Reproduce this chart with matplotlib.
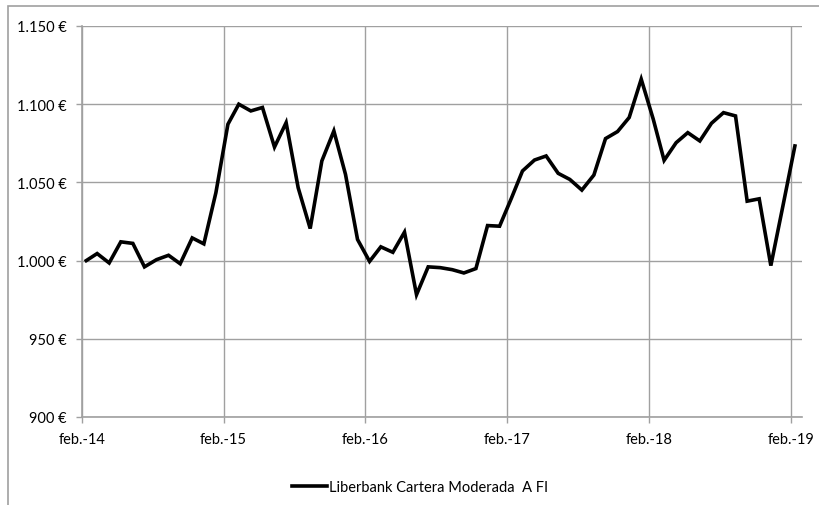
import matplotlib
matplotlib.use("Agg")
import matplotlib.pyplot as plt
from matplotlib.patches import Rectangle
from matplotlib.ticker import FuncFormatter
from datetime import datetime

# Monthly values, feb-2014 .. feb-2019
values = [
    1000, 1004.5, 998.5, 1012, 1011, 996, 1000.6, 1003.4, 998, 1014.5, 1010.7, 1043.4,
    1087.2, 1100, 1095.7, 1097.9, 1072.6, 1088.2, 1046.6, 1020.5, 1063.7, 1082.9, 1055.1, 1013.5,
    999.5, 1008.8, 1005.3, 1018.2, 978.2, 996, 995.5, 994.2, 992.1, 994.9, 1022.4, 1022,
    1040.2, 1057.3, 1064.3, 1066.9, 1055.8, 1051.9, 1045.1, 1054.7, 1078, 1082.5, 1091.5, 1116,
    1090.4, 1064.1, 1075.4, 1081.8, 1076.5, 1087.8, 1094.6, 1092.5, 1038, 1039.5, 996.8, 1034.8,
    1073.3,
]
dates = [datetime(2014 + (1 + i) // 12, (1 + i) % 12 + 1, 12) for i in range(len(values))]
tick_years = [2014, 2015, 2016, 2017, 2018, 2019]
tick_labels = ["feb.-14", "feb.-15", "feb.-16", "feb.-17", "feb.-18", "feb.-19"]
y_ticks = [900, 950, 1000, 1050, 1100, 1150]
series_name = "Liberbank Cartera Moderada  A FI"

plt.rcParams["font.family"] = ["Lato", "DejaVu Sans"]

W, H = 819, 506
fig = plt.figure(figsize=(W / 100, H / 100), dpi=100)
ax = fig.add_axes([82 / W, 1 - 418 / H, (801.5 - 82) / W, (418 - 27) / H])

grid_c = "#a0a0a0"
line, = ax.plot(dates, values, color="black", lw=2.6, solid_joinstyle="miter",
                label=series_name, zorder=3)

ax.set_xlim(datetime(2014, 2, 1), datetime(2019, 3, 1))
ax.set_ylim(900, 1150)
ax.set_xticks([datetime(y, 2, 1) for y in tick_years])
ax.set_xticklabels(tick_labels)
ax.set_yticks(y_ticks)
ax.yaxis.set_major_formatter(FuncFormatter(lambda v, p: f"{int(v):,} €".replace(",", ".")))

ax.grid(True, color=grid_c, lw=1)
for s in ["top", "right"]:
    ax.spines[s].set_visible(False)
for s in ["left", "bottom"]:
    ax.spines[s].set_color(grid_c)
    ax.spines[s].set_linewidth(1.2)
ax.tick_params(axis="both", color=grid_c, length=4, width=1, labelsize=10.5,
               labelcolor="black")
ax.tick_params(axis="y", pad=7)
ax.tick_params(axis="x", pad=7)

fig.legend(handles=[line], loc="center", bbox_to_anchor=(420 / W, 1 - 488 / H),
           frameon=False, fontsize=10.5, handlelength=2.4, handletextpad=0.1)

# outer chart frame (cropped at right and bottom)
fig.patches.append(Rectangle((7.5 / W, -0.1), 1.2, 1 - 7 / H + 0.1, transform=fig.transFigure,
                             fill=False, edgecolor=grid_c, lw=1.2))

fig.savefig("out.png", dpi=100)
